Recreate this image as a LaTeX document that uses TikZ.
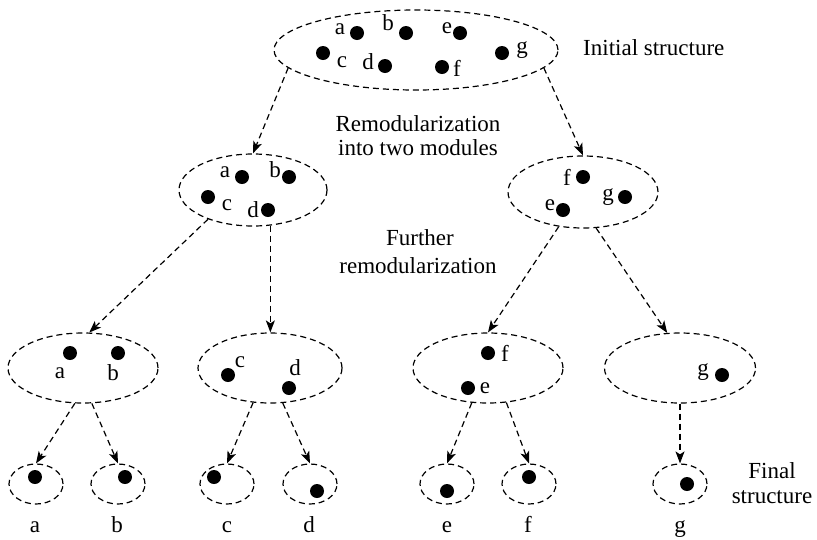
\documentclass[tikz,border=0pt]{standalone}
\usepackage{fontspec}
\setmainfont{Liberation Serif}
\usetikzlibrary{shapes.geometric,arrows.meta}
\begin{document}
\begin{tikzpicture}[x=1pt,y=-1pt,
  font=\fontsize{23}{26}\selectfont,
  grp/.style n args={2}{ellipse,draw,dash pattern=on 6pt off 4pt,line width=1.2pt,inner sep=0pt,minimum width=#1,minimum height=#2},
  dot/.style={circle,fill,inner sep=0pt,minimum size=14pt},
  lbl/.style={inner sep=0pt},
  txt/.style={inner sep=0pt,anchor=base},
  arr/.style={dash pattern=on 6pt off 4pt,line width=1.2pt,-{Stealth[length=12pt,width=9pt,inset=3pt]}}
]
\useasboundingbox (0,0) rectangle (817,539);

% group ellipses
\node[grp={284}{80}] (top) at (416,50) {};
\node[grp={148}{72}] (mL) at (253,190) {};
\node[grp={150}{72}] (mR) at (583,192) {};
\node[grp={150}{70}] (b1) at (83,368) {};
\node[grp={144}{70}] (b2) at (270,368) {};
\node[grp={150}{70}] (b3) at (488,368) {};
\node[grp={151}{70}] (b4) at (680,368) {};
\node[grp={54}{40}] (ca) at (36,484) {};
\node[grp={54}{40}] (cb) at (118,484) {};
\node[grp={54}{40}] (cc) at (227,484) {};
\node[grp={54}{40}] (cd) at (310,484) {};
\node[grp={54}{40}] (ce) at (447,484) {};
\node[grp={54}{40}] (cf) at (529,484) {};
\node[grp={54}{40}] (cg) at (680,484) {};

% top dots
\node[dot] (ta) at (357,33) {}; \node[lbl] (tla) at (340,29) {a};
\node[dot] (tb) at (406,33) {}; \node[lbl] (tlb) at (388,23) {b};
\node[dot] (te) at (460,33) {}; \node[lbl] (tle) at (447,28) {e};
\node[dot] (tc) at (323,53) {}; \node[lbl] (tlc) at (342,62) {c};
\node[dot] (td) at (385,66) {}; \node[lbl] (tld) at (368,62) {d};
\node[dot] (tf) at (442,67) {}; \node[lbl] (tlf) at (457,68) {f};
\node[dot] (tg) at (502,53) {}; \node[lbl] (tlg) at (522,50) {g};

% middle left dots
\node[dot] (la) at (242,177) {}; \node[lbl] (lla) at (225,172) {a};
\node[dot] (lb) at (289,177) {}; \node[lbl] (llb) at (275,170) {b};
\node[dot] (lc) at (208,197) {}; \node[lbl] (llc) at (227,205) {c};
\node[dot] (ld) at (268,210) {}; \node[lbl] (lld) at (253,210) {d};

% middle right dots
\node[dot] (rf) at (583,177) {}; \node[lbl] (rlf) at (567,177) {f};
\node[dot] (rg) at (625,197) {}; \node[lbl] (rlg) at (608,197) {g};
\node[dot] (re) at (563,210) {}; \node[lbl] (rle) at (550,205) {e};

% bottom row ellipse dots
\node[dot] (b1a) at (70,353) {};  \node[lbl] (b1la) at (60,373) {a};
\node[dot] (b1b) at (118,353) {}; \node[lbl] (b1lb) at (113,373) {b};
\node[dot] (b2c) at (228,375) {}; \node[lbl] (b2lc) at (240,362) {c};
\node[dot] (b2d) at (289,388) {}; \node[lbl] (b2ld) at (295,368) {d};
\node[dot] (b3f) at (488,353) {}; \node[lbl] (b3lf) at (505,353) {f};
\node[dot] (b3e) at (468,388) {}; \node[lbl] (b3le) at (485,388) {e};
\node[dot] (b4g) at (722,375) {}; \node[lbl] (b4lg) at (703,372) {g};

% final dots
\node[dot] (fa) at (35,477) {};
\node[dot] (fb) at (125,477) {};
\node[dot] (fc) at (214,477) {};
\node[dot] (fd) at (317,491) {};
\node[dot] (fe) at (447,491) {};
\node[dot] (ff) at (529,477) {};
\node[dot] (fg) at (687,484) {};

% final labels
\node[txt] (xa) at (35,532) {a};
\node[txt] (xb) at (117,532) {b};
\node[txt] (xc) at (227,532) {c};
\node[txt] (xd) at (309,532) {d};
\node[txt] (xe) at (447,532) {e};
\node[txt] (xf) at (528,532) {f};
\node[txt] (xg) at (680,532) {g};

% captions
\node[txt,anchor=base west] (cap1) at (583,55) {Initial structure};
\node[txt] (cap2a) at (418,131.5) {Remodularization};
\node[txt] (cap2b) at (418,155) {into two modules};
\node[txt] (cap3a) at (420,245) {Further};
\node[txt] (cap3b) at (418,273) {remodularization};
\node[txt] (cap4a) at (772,478) {Final};
\node[txt] (cap4b) at (772,503) {structure};

% connectors
\draw[arr] (top.188.5) -- (mL.north);
\draw[arr] (top.352.5) -- (mR.north);
\draw[arr] (mL.213) -- (b1.80);
\draw[arr] (mL.296) -- (mL.296 |- b2.north);
\draw[arr] (mR.235) -- (b3.north);
\draw[arr] (mR.290) -- (b4.110);
\draw[arr] (b1.257) -- (ca.north);
\draw[arr] (b1.284.4) -- (cb.north);
\draw[arr] (b2.244) -- (cc.north);
\draw[arr] (b2.290.4) -- (cd.north);
\draw[arr] (b3.245.4) -- (ce.north);
\draw[arr] (b3.298.5) -- (cf.north);
\draw[arr] (b4.south) -- (cg.north);
\end{tikzpicture}
\end{document}
